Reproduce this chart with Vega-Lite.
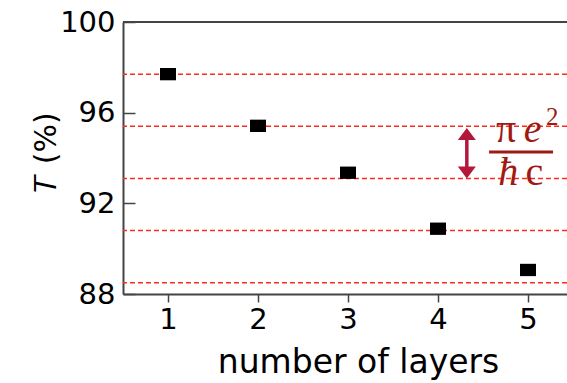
{
  "$schema": "https://vega.github.io/schema/vega-lite/v6.json",
  "width": 444,
  "height": 272,
  "autosize": {"type": "none"},
  "padding": {"left": 123, "top": 22, "right": 0, "bottom": 89},
  "background": "white",
  "config": {"view": {"stroke": null}, "font": "DejaVu Sans"},
  "datasets": {
    "transmission": [
      {"layers": 1, "T": 97.7},
      {"layers": 2, "T": 95.42},
      {"layers": 3, "T": 93.35},
      {"layers": 4, "T": 90.88},
      {"layers": 5, "T": 89.06}
    ],
    "steps": [
      {"T": 97.7},
      {"T": 95.4},
      {"T": 93.1},
      {"T": 90.8},
      {"T": 88.5}
    ],
    "shaft": [{"x": 4.32, "top": 95.0, "bottom": 93.4}],
    "heads": [
      {"x": 4.32, "T": 95.32, "end": "upper"},
      {"x": 4.32, "T": 93.1, "end": "lower"}
    ],
    "bar": [{"x": 4.567, "x2": 5.278, "T": 94.26}],
    "upright": [
      {"x": 4.756, "T": 94.7, "glyph": "π"},
      {"x": 5.07, "T": 92.81, "glyph": "c"}
    ],
    "italic": [
      {"x": 5.05, "T": 94.7, "glyph": "e"},
      {"x": 4.78, "T": 92.81, "glyph": "ħ"}
    ],
    "power": [{"x": 5.27, "T": 95.45, "glyph": "2"}]
  },
  "layer": [
    {
      "data": {"name": "steps"},
      "mark": {"type": "rule", "color": "#ff2b1c", "strokeWidth": 1.5, "strokeDash": [5, 3]},
      "encoding": {
        "y": {"field": "T", "type": "quantitative", "scale": {"domain": [88, 100], "nice": false, "zero": false}}
      }
    },
    {
      "data": {"values": [{}]},
      "mark": {"type": "rule", "color": "#444", "strokeWidth": 2},
      "encoding": {"y": {"datum": 100, "type": "quantitative"}}
    },
    {
      "data": {"name": "transmission"},
      "mark": {"type": "point", "filled": true, "color": "black", "opacity": 1, "size": 256, "shape": "M-1,-0.77H1V0.77H-1Z"},
      "encoding": {
        "x": {
          "field": "layers", "type": "quantitative",
          "scale": {"domain": [0.5, 5.433], "nice": false, "zero": false},
          "axis": {
            "values": [1, 2, 3, 4, 5], "format": "d", "grid": false, "labelFlush": false,
            "title": "number of layers", "titleFontSize": 33, "titleFontWeight": "normal", "titleColor": "black",
            "titleX": 235, "titleY": 78, "titleBaseline": "alphabetic",
            "labelFontSize": 29, "labelColor": "black", "labelPadding": 3,
            "tickSize": 8, "tickWidth": 1.5, "tickColor": "#444",
            "domainColor": "#444", "domainWidth": 2
          }
        },
        "y": {
          "field": "T", "type": "quantitative",
          "axis": {
            "values": [88, 92, 96, 100], "grid": false, "labelFlush": false,
            "title": "𝑇 (%)", "titleFontSize": 30, "titleFontWeight": "normal", "titleColor": "black",
            "titleX": -68, "titleY": 130, "titleBaseline": "alphabetic", "titleAlign": "center",
            "labelFontSize": 29, "labelColor": "black", "labelPadding": 20,
            "tickSize": -12, "tickWidth": 1.5, "tickColor": "#444",
            "domainColor": "#444", "domainWidth": 2
          }
        }
      }
    },
    {
      "data": {"name": "shaft"},
      "mark": {"type": "rule", "color": "#b3173a", "strokeWidth": 3.5},
      "encoding": {
        "x": {"field": "x", "type": "quantitative"},
        "y": {"field": "top", "type": "quantitative"},
        "y2": {"field": "bottom"}
      }
    },
    {
      "data": {"name": "heads"},
      "mark": {"type": "point", "filled": true, "color": "#b3173a", "opacity": 1, "size": 324},
      "encoding": {
        "x": {"field": "x", "type": "quantitative"},
        "y": {"field": "T", "type": "quantitative"},
        "shape": {
          "field": "end", "type": "nominal", "legend": null,
          "scale": {"domain": ["upper", "lower"], "range": ["M0,0L1,1.33L-1,1.33Z", "M0,0L1,-1.33L-1,-1.33Z"]}
        }
      }
    },
    {
      "data": {"name": "bar"},
      "mark": {"type": "rule", "color": "#9e1a12", "strokeWidth": 3},
      "encoding": {
        "x": {"field": "x", "type": "quantitative"},
        "x2": {"field": "x2"},
        "y": {"field": "T", "type": "quantitative"}
      }
    },
    {
      "data": {"name": "upright"},
      "mark": {"type": "text", "font": "Liberation Serif", "fontSize": 40, "color": "#9e1a12", "align": "center", "baseline": "alphabetic"},
      "encoding": {
        "x": {"field": "x", "type": "quantitative"},
        "y": {"field": "T", "type": "quantitative"},
        "text": {"field": "glyph"}
      }
    },
    {
      "data": {"name": "italic"},
      "mark": {"type": "text", "font": "Liberation Serif", "fontSize": 40, "fontStyle": "italic", "color": "#9e1a12", "align": "center", "baseline": "alphabetic"},
      "encoding": {
        "x": {"field": "x", "type": "quantitative"},
        "y": {"field": "T", "type": "quantitative"},
        "text": {"field": "glyph"}
      }
    },
    {
      "data": {"name": "power"},
      "mark": {"type": "text", "font": "Liberation Serif", "fontSize": 25, "color": "#9e1a12", "align": "center", "baseline": "alphabetic"},
      "encoding": {
        "x": {"field": "x", "type": "quantitative"},
        "y": {"field": "T", "type": "quantitative"},
        "text": {"field": "glyph"}
      }
    }
  ]
}
